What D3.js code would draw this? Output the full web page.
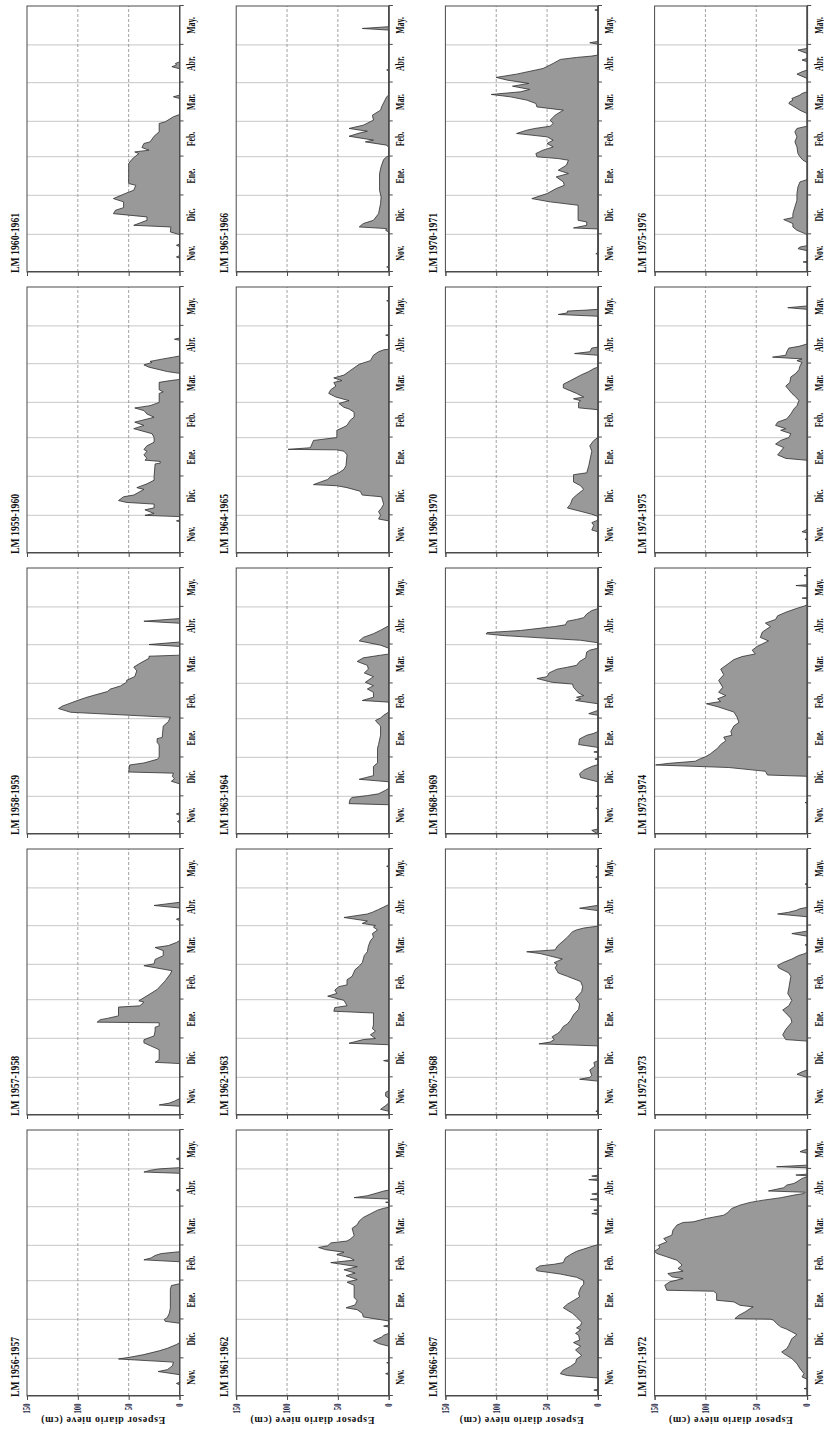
<!DOCTYPE html>
<html>
<head>
<meta charset="utf-8">
<script src="https://cdn.jsdelivr.net/npm/d3@7"></script>
<style>
    body { margin: 0; background: #fff; }
    svg { display: block; }
    text { font-family: "Liberation Serif", "Times New Roman", serif; font-weight: bold; fill: #111; }
</style>
</head>
<body>
<div id="chart"></div>
<script>
// days counted from 1 Nov, depth in cm
const monthLabels = ["Nov.", "Dic.", "Ene.", "Feb.", "Mar.", "Abr.", "May."];
const monthStarts = [0, 30, 61, 92, 120, 151, 181, 212];
const valueTicks = [0, 50, 100, 150];

const seasonLabels = [
    "LM 1956-1957", "LM 1957-1958", "LM 1958-1959", "LM 1959-1960", "LM 1960-1961",
    "LM 1961-1962", "LM 1962-1963", "LM 1963-1964", "LM 1964-1965", "LM 1965-1966",
    "LM 1966-1967", "LM 1967-1968", "LM 1968-1969", "LM 1969-1970", "LM 1970-1971",
    "LM 1971-1972", "LM 1972-1973", "LM 1973-1974", "LM 1974-1975", "LM 1975-1976"
];

const lm1956 = [[0,0],[9,0],[10,3],[11,0],[17,0],[19.5,21],[21,12],[24,7],[27,6],[29.5,60],[31,48],[33,35],[36,20],[38,12],[41,3],[42.5,0],[58,0],[59.5,14],[61,15],[62.5,12],[66,10],[70,9],[85,9],[88,8],[89.5,0],[107,0],[108.5,35],[110,28],[112,24],[113.5,18],[115,0],[163,0],[164,3],[165,0],[177.5,0],[178.5,35],[180,28],[181,20],[182,0],[188,0],[189,3],[190,0],[212,0]];
const lm1957 = [[0,0],[7,0],[8,20],[9.5,10],[11,5],[13,0],[41,0],[42,24],[44,20],[52,20],[53.5,24],[57.5,35],[60,35],[63,25],[67,24],[70,24],[71,20],[73.5,20],[74,81],[76,78],[77,71],[79,60],[86,60],[87,39],[90,35],[91,40],[95,32],[100,22],[107,14],[112.5,9],[115,7.5],[119,35],[120.5,25],[124,24],[127,16],[131,16],[133.5,24],[135,11],[137.5,3],[139,0],[155,0],[156,3],[157,0],[165,0],[167,25],[169.5,0],[212,0]];
const lm1958 = [[0,0],[9,0],[10,2],[11,0],[15,0],[16,3],[17,0],[40,0],[42,8],[44,5],[46,7],[48.5,6],[49.4,50],[55,49],[56.6,35],[59.5,22],[61,20],[71,20],[73,22],[76,22],[77,17],[86,16],[89.5,11],[93,9],[97,107],[100,119],[102,115],[103.5,110],[106.5,100],[109,91],[111.5,80],[113.5,71],[115.5,68],[118,58],[121,52],[122.5,52],[125.5,44],[130,42],[133,45],[136,39],[140,30],[141.7,30],[142.5,0],[149.5,0],[151,30],[153,0],[168,0],[169.6,35],[171.7,0],[212,0]];
const lm1959 = [[0,0],[25,0],[25.6,3],[26.3,0],[29,0],[30,34],[31.5,25],[34.4,34],[36,25],[39,25],[40.3,52],[41.8,60],[44.8,55],[46.2,45],[50.7,35],[52.1,42],[55.1,32],[58,25],[61,25],[71,24],[71.6,19],[73,19],[74,34],[75.4,32],[78.2,35],[81.1,32],[82.5,35],[85.4,32],[88.3,25],[92,25],[95.1,27],[99.1,45],[101.7,35],[104.3,44],[108.2,25],[110.8,32],[113.5,35],[115.6,44],[117.4,29],[120,20],[127.2,20],[128.4,16],[130.1,20],[136,20],[137.4,9],[138.3,0],[143.2,0],[144.6,12],[148.1,30],[149.9,35],[151.9,27],[152.7,29],[154.7,16],[156.1,6],[157,0],[169.5,0],[170.4,5],[171.3,0],[212,0]];
const lm1960 = [[0,0],[11,0],[12,3],[13,0],[20.3,0],[21.3,3],[22.3,0],[29.8,0],[31.9,9],[35.9,8.5],[37.2,45],[41.2,32],[43.9,32],[46.5,65],[49.2,63],[51.3,55],[55.9,55],[58.5,65],[63,52],[65.2,45],[69.1,43],[70.5,50],[86.4,50],[89.6,47],[91.8,44],[94.4,40],[95.7,44],[97.1,30],[99.2,37],[102.4,35],[103.7,29],[108.2,25],[111.7,20],[118.4,20],[119.7,14],[123.7,6],[125.5,0],[138.3,0],[139.6,6],[141,0],[162,0],[163.6,7.5],[165,3],[166.2,4],[167.5,0],[212,0]];
const lm1961 = [[0,0],[17,0],[17.8,3],[18.6,0],[26,0],[26.5,2],[27,0],[39.7,0],[41.8,10],[44,15],[47,7],[48.4,5],[49.9,0],[55,0],[55.7,5],[56.4,0],[59.8,0],[63,25],[65.9,26],[68.8,31],[70.3,42],[72.6,33],[76.1,31],[78.4,34],[88.2,34],[90.7,41],[92.8,31],[95.9,42],[98,33],[100.6,44],[103.1,31],[106.3,57],[108.3,34],[110.1,38],[112.7,51],[114.6,44],[116.6,62],[118.4,69],[119.7,60],[122,57],[123.5,41],[124.9,38],[127.8,34],[133.6,36],[136.5,31],[139.4,29],[142.3,25],[145.2,18],[148.1,11],[149.6,5],[150.4,0],[154,0],[154.4,3],[154.8,0],[157,0],[158.1,34],[159.6,21],[161.9,11],[163.3,5],[164.1,0],[212,0]];
const lm1962 = [[0,0],[3,0],[4.5,8],[7.5,3],[9.6,0],[13.5,0],[15,3],[18,3],[19.5,0],[42.5,0],[43.3,5],[44,0],[56,0],[57.2,39],[60.1,25],[61,13],[63.9,18],[66.8,13],[68.8,16],[71.7,15],[81.3,15],[82.7,54],[85.6,53],[87.1,41],[91.4,44],[94.7,60],[96.9,51],[99.6,53],[102.3,49],[103.7,41],[107.8,41],[110.5,36],[115.9,33],[118.6,29],[121.4,26],[127.2,24],[130.1,21],[134.5,20],[138.8,18],[141.7,15],[144.6,16],[147.5,11],[149.8,15],[151,13],[152.7,26],[154.6,21],[157.4,44],[160.2,21],[161.6,16],[163.8,10],[165.7,5],[167.7,0],[197.5,0],[198.2,2],[199,0],[212,0]];
const lm1963 = [[0,0],[23.3,0],[24.2,39],[27.7,38],[29.1,36],[30.6,21],[32,10],[34.9,3],[36.4,0],[41.6,0],[43.6,29],[46.5,15],[53.8,15],[56.7,11],[68.4,11],[71.3,10],[78.7,8],[86.1,8],[87.6,10],[90.5,13],[92.5,8],[94.6,5],[97.2,0],[105.1,0],[106.4,26],[109,15],[112.9,15],[115.6,21],[118.2,15],[120.9,23],[125.4,15],[128.4,24],[131.4,20],[134.4,21],[137.5,31],[140.4,25],[142.5,8],[143.4,0],[148.1,0],[150.5,8],[153.9,29],[156.7,25],[159.6,15],[162.4,8],[165.9,0],[212,0]];
const lm1964 = [[0,0],[25.6,0],[27.1,10],[30,8],[33,10],[35.9,7],[38.9,5],[44.8,7],[46.2,26],[49.2,28],[52.1,41],[53.6,51],[54.5,74],[56.6,67],[58.6,60],[61,57],[63.9,49],[66.7,44],[69.6,42],[78.2,41],[81.1,44],[82.2,51],[82.6,99],[83.9,77],[89.7,74],[92,51],[97.8,51],[100.4,44],[101.7,41],[105.7,38],[108.3,34],[112.2,34],[114.8,39],[116.1,44],[119.2,49],[121.4,39],[124.3,52],[127.2,59],[130.1,57],[133,52],[135.9,54],[137.4,46],[139.5,54],[141.8,44],[144.7,39],[147.6,34],[150.4,29],[153.3,18],[157.6,15],[160.4,10],[161.9,5],[162.4,0],[173,0],[173.6,3],[174.2,0],[200.4,0],[201,2],[201.6,0],[212,0]];
const lm1965 = [[0,0],[3.5,0],[4,2],[4.5,0],[31.9,0],[33.2,3],[34.6,2],[35.9,29],[38.6,25],[41.2,15],[46.5,10],[54.5,8],[59.8,7.5],[65.2,9],[78.5,9],[83.8,7.5],[89.6,5],[91.8,2],[92.6,0],[99.2,0],[101.1,2],[103.7,23],[105.1,15],[108.2,39],[110.9,28],[112.2,21],[114.4,39],[117,25],[121,15],[125,16],[129,8],[131.6,7],[139.6,2],[141,0],[160.5,0],[161,2],[161.5,0],[192.8,0],[194.1,26],[195.5,0],[212,0]];
const lm1966 = [[0,0],[4,0],[4.7,4],[5.4,0],[14.3,0],[16.3,30],[17.8,37],[20.7,34],[23.6,27],[26.5,22],[29.4,21],[32.3,16],[36.7,22],[39.7,17],[42.6,24],[44.6,18],[48.4,19],[49.9,22],[52.8,17],[54.3,21],[56.3,17],[58.7,16],[63,21],[65.9,25],[70.3,34],[73.2,30],[76.1,24],[79,18],[81.9,19],[86.2,17],[89.1,14],[92,14],[94.6,21],[97.2,37],[99.8,60],[101.6,61],[103.7,57],[105,43],[106.3,34],[110.1,32],[112.7,27],[115.3,21],[117.1,14],[118.7,8],[119.7,4],[120.6,0],[144.6,0],[145.3,6],[146,0],[147.5,0],[148.1,4],[148.7,0],[156,0],[156.7,7.5],[157.4,0],[160.3,0],[161,6],[161.7,0],[171.7,0],[172.4,9],[173.1,0],[174.6,0],[175.3,6],[176,0],[212,0]];
const lm1967 = [[0,0],[2.5,0],[3,2],[3.5,0],[27,0],[28.5,18],[30,8],[31.5,6],[35.9,8],[38.9,3],[41.8,4],[43.3,0],[54.2,0],[55.1,1],[56.7,58],[58.1,47],[60.1,43],[62.4,45],[64.8,40],[66.8,37],[70.6,34],[72.6,30],[75.5,27],[79.8,24],[84.2,19],[88.5,18],[91.4,21],[92.8,22],[95.5,19],[98.3,16],[102.3,15],[106.4,17],[110.5,30],[113.2,39],[117.3,42],[120,40],[121.4,43],[124.3,35],[128.7,57],[130.1,70],[131.6,42],[134.5,40],[138.8,34],[141.7,30],[146.1,25],[147.5,21],[149,14],[150.4,1],[151,0],[162.9,0],[164.8,18],[167.1,0],[189,0],[189.6,2],[190.2,0],[197.6,0],[198.2,2],[198.8,0],[212,0]];
const lm1968 = [[0,0],[2.9,6],[4,0],[19.8,0],[20.4,2],[21,0],[29.4,0],[30,2],[30.6,0],[41.6,0],[45.1,17],[48,18],[50.9,14],[53.8,6],[55.3,0],[59.1,0],[59.7,3],[60.3,0],[64.8,0],[65.4,4],[66,0],[69,0],[71.3,19],[75.8,18],[78.7,11],[80.2,4],[81.7,0],[94.6,0],[95.9,9],[98.5,0],[103.8,0],[106.4,22],[107.7,17],[109,21],[110.3,14],[112.4,19],[114.2,21],[116.9,24],[119.5,25],[120.9,45],[123.9,60],[125.4,50],[128.4,48],[131.4,40],[132.9,30],[134.4,21],[137.5,18],[140.4,12],[145,11],[146.5,8],[148.1,0],[152.4,0],[154.4,17],[158.1,92],[159.5,110],[160.5,109],[162.2,76],[165.3,43],[166.7,32],[169.6,30],[171,21],[172.4,14],[175.3,11],[178.1,6],[179.6,0],[212,0]];
const lm1969 = [[0,0],[16.9,0],[18.3,6],[22.1,4],[24.2,6],[26.2,0],[29.1,0],[30.9,6],[35.9,30],[38.9,27],[43.3,25],[46.2,21],[50.7,14],[53.6,17],[56.6,24],[62.4,24],[63.9,11],[69.6,9],[81.1,6],[85.4,8],[89.7,4],[92,0],[114.2,0],[115.7,19],[120,19],[121.4,17],[122.9,24],[124.3,14],[127.2,21],[131.6,34],[134.5,34],[137.4,27],[141.7,17],[144.6,9],[147,4],[148.1,0],[157.6,0],[159,23],[160.4,8],[163.3,6],[164.1,0],[188.7,0],[190.1,39],[191.4,30],[192.8,30],[193.6,11],[194.2,0],[212,0]];
const lm1970 = [[0,0],[14,0],[14.6,2],[15.2,0],[34.3,0],[35.1,24],[37.2,11],[39.9,11],[41.2,19.5],[53.2,19.5],[55.9,47],[58.5,65],[62.5,50],[66.5,41],[69.1,33],[71.8,34],[75.8,41],[78.5,29],[81.1,39],[85.1,31],[89.1,29],[90.4,39],[91.8,60],[94.4,61],[97.1,54],[99.7,44],[102.4,50],[105.1,44],[107.7,50],[110.4,80],[113,70],[114.4,62],[116.2,47],[118.4,44],[121,47],[125,42],[129,34],[131.6,60],[134.3,61],[137,70],[139.6,86],[141.5,105],[143.6,76],[145.5,67],[148.1,84],[150.3,68],[152.9,89],[155.1,100],[157.7,80],[162.2,54],[166.2,44],[169.4,37],[171,21],[172.1,6],[172.9,0],[181.6,0],[182.7,8],[183.8,0],[208.3,0],[208.8,3],[209.3,0],[212,0]];
const lm1971 = [[0,0],[5.4,0],[5.9,3],[6.4,0],[13.3,0],[15.2,5],[17.8,3],[21.8,7],[25.8,10],[29.8,15],[33.8,23],[35.1,25],[37.8,20],[40.4,18],[45.7,15],[48.9,10],[51.1,15],[53.2,20],[55.1,26],[57.7,30],[60.4,33],[61.2,36],[61.7,71],[64.4,67],[67,61],[69.7,56],[71,53],[72.3,66],[75,72],[76.3,89],[81.6,89],[83.5,92],[84.3,138],[88.3,140],[91,135],[93.6,122],[95,133],[97.6,137],[99.5,122],[101.6,127],[104.3,123],[108.2,128],[110.9,138],[113.6,148],[115.4,150],[118.1,145],[120.2,146],[122.9,138],[125.5,141],[128.2,133],[132.2,132],[136.2,128],[138.3,122],[138.8,112],[141.5,99],[144.1,82],[146.3,78],[149.5,74],[152.1,66],[154.3,56],[156.1,43],[158,26],[160.1,13],[161.4,3],[162.4,2],[163.4,38],[166,23],[168.1,20],[169.4,13],[170.7,10],[173.4,5],[174.7,0],[175.5,0],[176.1,11],[176.8,0],[181.9,0],[182.7,30],[184,0],[193.5,0],[194.7,7],[196,3],[196.5,0],[212,0]];
const lm1972 = [[0,0],[30,0],[32.4,10],[34.4,5],[35.9,0],[58.9,0],[60.1,21],[63.9,24],[68.2,21],[71.1,18],[74,15],[77,16],[81.3,21],[83.6,24],[87.1,18],[91.4,15],[96.9,19],[101,18],[110.5,16],[113.2,18],[117.3,28],[119.2,29],[121.4,24],[124.3,15],[127.2,8],[128.7,2],[130.1,0],[135,0],[135.6,2],[136.2,0],[142.5,0],[144.6,15],[146.5,0],[158,0],[160.2,29],[161.6,18],[163,11],[164.4,7],[165.5,0],[183.5,0],[184,2],[184.5,0],[212,0]];
const lm1973 = [[0,0],[24.5,0],[25,2],[25.5,0],[46,0],[47,39],[50,41],[53,77],[55,149],[56.3,136],[58,110],[60,105],[61.5,100],[64,95],[68.4,88],[71.3,85],[74.3,80],[77.2,82],[78.7,74],[81.7,75],[86.1,72],[89,67],[93.3,69],[97.2,72],[101.2,87],[103.8,99],[105.6,85],[107.7,88],[110.3,80],[112.9,87],[116.9,83],[122.4,87],[126.9,82],[131.4,85],[136,77],[139,72],[141.4,64],[143.5,51],[146.5,54],[149.5,49],[153.9,38],[156.7,46],[161,44],[165.3,36],[168.1,41],[171,31],[173.9,29],[176.7,21],[179.6,11],[181.6,3],[182.7,0],[187.5,0],[188,5],[188.5,0],[197.3,0],[198,11],[198.7,0],[205.5,0],[206,3],[206.5,0],[212,0]];
const lm1974 = [[0,0],[10.5,0],[11,2],[11.5,0],[16,0],[16.9,5],[18,2],[19,0],[73.9,0],[75.4,21],[78.2,29],[81.1,26],[84,23],[86.8,31],[89.7,26],[92,18],[95.1,16],[97.8,26],[99.1,21],[101.7,31],[104.3,29],[106.9,20],[110.8,16],[114.8,13],[117.4,10],[121.4,8],[124.3,11],[127.2,15],[130.1,18],[133,21],[135.9,17],[140.3,16],[143.2,11],[146.1,8],[149,7],[151.9,5],[153.3,10],[154.7,5],[156.1,34],[157.6,21],[160.4,20],[163.3,18],[164.7,8],[166.1,2],[166.7,0],[194.2,0],[195.5,19],[196.9,0],[212,0]];
const lm1975 = [[0,0],[7.5,0],[8,4],[8.5,0],[17,0],[18.6,9],[19.9,7],[21,0],[29.3,0],[30.6,2],[33.2,10],[35.9,14],[38.6,14],[41.8,23],[43.4,14],[46.5,14],[51.9,12],[57.2,10],[62.5,10],[67.8,9],[71.8,7],[73.1,2],[73.7,0],[87.2,0],[89.1,4],[91.8,7],[94.4,9],[99.7,10],[103.7,12],[107.7,10],[111.7,12],[114.4,10],[116.2,0],[126.3,0],[128.9,7],[134.3,18],[135.6,17],[137,14],[138.3,15],[141,7],[142.3,5],[143.6,0],[154.3,0],[157.7,10],[159.6,5],[160.9,0],[167.6,0],[168.9,5],[170.2,0],[174.2,0],[176.9,9],[178.2,0],[212,0]];

const series = [lm1956, lm1957, lm1958, lm1959, lm1960,
                lm1961, lm1962, lm1963, lm1964, lm1965,
                lm1966, lm1967, lm1968, lm1969, lm1970,
                lm1971, lm1972, lm1973, lm1974, lm1975];

// The figure is laid out landscape (5 columns x 4 rows) and then turned a quarter turn
const figW = 1430;
const panelW = 266, panelH = 152.5;
const stepX = 281, stepY = 209.2;
const left0 = 34, top0 = 27;
const squeeze = 0.7; // text in the source is narrowed along the time axis

const svg = d3.select("#chart")
    .append("svg")
    .attr("width", 824)
    .attr("height", 1430);

const fig = svg.append("g")
    .attr("transform", `translate(0,${figW}) rotate(-90)`);

const x = d3.scaleLinear().domain([0, 212]).range([0, panelW]);
const y = d3.scaleLinear().domain([0, 150]).range([panelH, 0]);

const area = d3.area()
    .x(d => x(d[0]))
    .y0(y(0))
    .y1(d => y(d[1]));

series.forEach((data, i) => {
    const col = i % 5;
    const row = Math.floor(i / 5);
    const g = fig.append("g")
        .attr("transform", `translate(${left0 + col * stepX},${top0 + row * stepY})`);

    // month gridlines
    g.selectAll(".mgrid")
        .data(monthStarts.slice(1, -1))
        .join("line")
        .attr("x1", d => x(d)).attr("x2", d => x(d))
        .attr("y1", 0).attr("y2", panelH)
        .attr("stroke", "#d2d2d2")
        .attr("stroke-width", 1.3);

    // dashed depth gridlines
    g.selectAll(".vgrid")
        .data([50, 100])
        .join("line")
        .attr("x1", 0).attr("x2", panelW)
        .attr("y1", d => y(d)).attr("y2", d => y(d))
        .attr("stroke", "#8a8a8a")
        .attr("stroke-width", 0.8)
        .attr("stroke-dasharray", "3,2");

    g.append("path")
        .datum(data)
        .attr("d", area)
        .attr("fill", "#999999")
        .attr("stroke", "#2e2e2e")
        .attr("stroke-width", 0.8)
        .attr("stroke-linejoin", "round");

    g.append("rect")
        .attr("width", panelW)
        .attr("height", panelH)
        .attr("fill", "none")
        .attr("stroke", "#4a4a4a")
        .attr("stroke-width", 1);

    // time axis: ticks at month limits, labels in the middle of each month
    g.append("g")
        .attr("transform", `translate(0,${panelH})`)
        .call(d3.axisBottom(x).tickValues(monthStarts).tickSize(4).tickFormat(""))
        .call(a => a.select(".domain").attr("stroke", "#4a4a4a"))
        .call(a => a.selectAll("line").attr("stroke", "#4a4a4a"));

    monthLabels.forEach((m, k) => {
        const cx = x((monthStarts[k] + monthStarts[k + 1]) / 2);
        g.append("text")
            .attr("transform", `translate(${cx},${panelH + 15.5}) scale(0.68,1)`)
            .attr("text-anchor", "middle")
            .style("font-size", "11.5px")
            .text(m);
    });

    // depth axis
    const yAxis = g.append("g")
        .call(d3.axisLeft(y).tickValues(valueTicks).tickSize(4)
            .tickFormat(col === 0 ? d3.format("d") : ""))
        .call(a => a.select(".domain").attr("stroke", "#4a4a4a"))
        .call(a => a.selectAll("line").attr("stroke", "#4a4a4a"));

    yAxis.selectAll("text")
        .attr("x", -7.5 / squeeze)
        .attr("dy", "0.3em")
        .attr("transform", `scale(${squeeze},1)`)
        .style("font-size", "9.5px")
        .style("font-family", "'Liberation Serif', serif")
        .style("fill", "#1a1a40");

    if (col === 0) {
        g.append("text")
            .attr("transform", `translate(-21,${panelH / 2}) rotate(-90)`)
            .attr("text-anchor", "middle")
            .attr("textLength", 124)
            .attr("lengthAdjust", "spacing")
            .style("font-size", "10px")
            .text("Espesor  diario  nieve  (cm)");
    }

    // panel title
    g.append("text")
        .attr("transform", `translate(-1,-8.5) scale(0.72,1)`)
        .style("font-size", "13.5px")
        .text(seasonLabels[i]);
});
</script>
</body>
</html>
